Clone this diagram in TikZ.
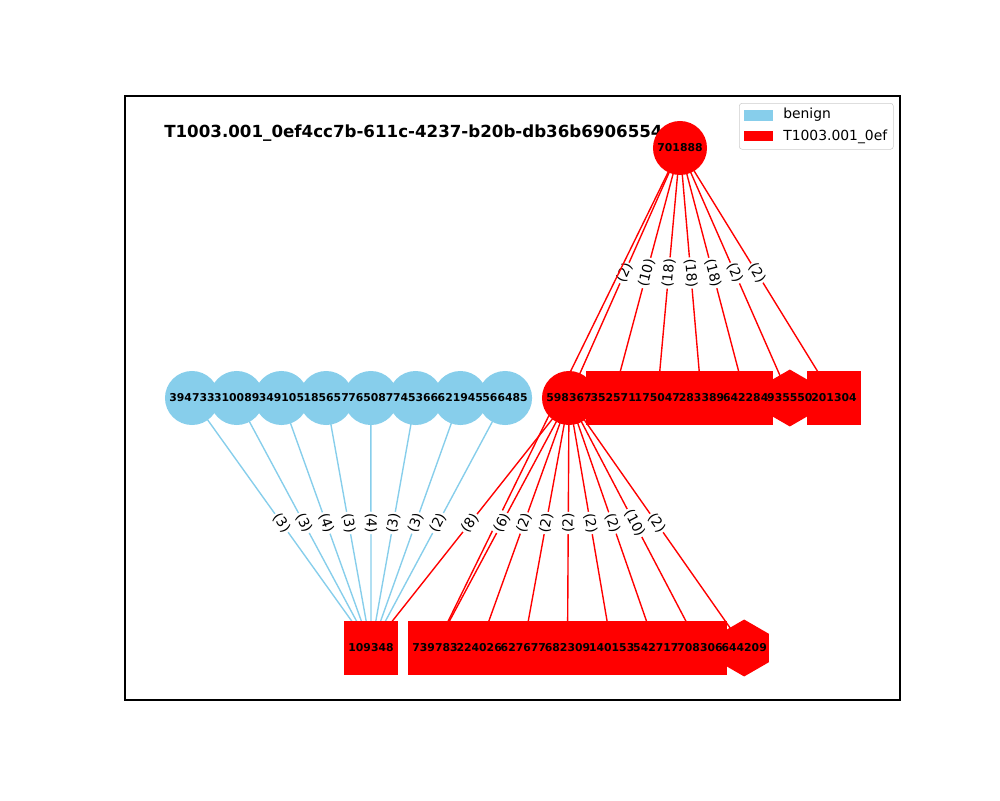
\documentclass[tikz,border=0pt]{standalone}
\usepackage{fontspec}
\setmainfont{DejaVu Sans}
\usetikzlibrary{shapes.geometric, backgrounds, positioning}
\definecolor{skyblue}{HTML}{87CEEB}
\tikzstyle{benign} = [circle, minimum size=38.9pt, inner sep=0pt, fill=skyblue]
\tikzstyle{hostcircle} = [circle, minimum size=38.9pt, inner sep=0pt, fill=red]
\tikzstyle{hostsquare} = [rectangle, minimum size=38.9pt, inner sep=0pt, fill=red]
\tikzstyle{hosthex} = [regular polygon, regular polygon sides=6, shape border rotate=30, minimum size=41pt, inner sep=0pt, fill=red]
\tikzstyle{nodeid} = [inner sep=0pt, font=\bfseries\fontsize{7.8}{9}\selectfont]
\tikzstyle{benignedge} = [draw=skyblue, line width=1pt]
\tikzstyle{attackedge} = [draw=red, line width=1pt]
\tikzstyle{weight} = [midway, sloped, fill=white, inner sep=1pt, font=\fontsize{10}{12}\selectfont]
\tikzstyle{keypatch} = [rectangle, minimum width=20.7pt, minimum height=7.5pt, inner sep=0pt]
\tikzstyle{keytext} = [anchor=base west, inner sep=0pt, font=\fontsize{10}{12}\selectfont]
\begin{document}
\begin{tikzpicture}[x=0.72pt, y=-0.72pt, node distance=31.8pt]
	\useasboundingbox (0,0) rectangle (1000,800);
	\draw[line width=0.8pt] (125,96) rectangle (900,700);
	
		\node (title) [anchor=base west, inner sep=0pt, font=\bfseries\fontsize{12}{14}\selectfont] at (164,137.5) {T1003.001\_0ef4cc7b-611c-4237-b20b-db36b6906554};
		
		\node (n701888) [hostcircle] at (680,148) {};
		
		\begin{scope}[node distance=32.2pt]
		\node (n394733) [benign] at (192,398) {};
		\node (n310089) [benign, right of=n394733] {};
		\node (n349105) [benign, right of=n310089] {};
		\node (n185657) [benign, right of=n349105] {};
		\node (n765087) [benign, right of=n185657] {};
		\node (n745366) [benign, right of=n765087] {};
		\node (n621945) [benign, right of=n745366] {};
		\node (n566485) [benign, right of=n621945] {};
		\end{scope}
		
		\node (n598367) [hostcircle] at (569,398) {};
		\node (n352571) [hostsquare, right of=n598367] {};
		\node (n175047) [hostsquare, right of=n352571] {};
		\node (n283389) [hostsquare, right of=n175047] {};
		\node (n642284) [hostsquare, right of=n283389] {};
		\node (n935550) [hosthex, right of=n642284] {};
		\node (n201304) [hostsquare, right of=n935550] {};
		
		\node (n109348) [hostsquare] at (371,648) {};
		\node (n739783) [hostsquare] at (435,648) {};
		\node (n224026) [hostsquare, right of=n739783] {};
		\node (n627677) [hostsquare, right of=n224026] {};
		\node (n682309) [hostsquare, right of=n627677] {};
		\node (n140153) [hostsquare, right of=n682309] {};
		\node (n542717) [hostsquare, right of=n140153] {};
		\node (n708306) [hostsquare, right of=n542717] {};
		\node (n644209) [hosthex, right of=n708306] {};
		
		% ids on top of the shapes
		\node (t701888) [nodeid] at (n701888) {701888};
		\node (t394733) [nodeid] at (n394733) {394733};
		\node (t310089) [nodeid] at (n310089) {310089};
		\node (t349105) [nodeid] at (n349105) {349105};
		\node (t185657) [nodeid] at (n185657) {185657};
		\node (t765087) [nodeid] at (n765087) {765087};
		\node (t745366) [nodeid] at (n745366) {745366};
		\node (t621945) [nodeid] at (n621945) {621945};
		\node (t566485) [nodeid] at (n566485) {566485};
		\node (t598367) [nodeid] at (n598367) {598367};
		\node (t352571) [nodeid] at (n352571) {352571};
		\node (t175047) [nodeid] at (n175047) {175047};
		\node (t283389) [nodeid] at (n283389) {283389};
		\node (t642284) [nodeid] at (n642284) {642284};
		\node (t935550) [nodeid] at (n935550) {935550};
		\node (t201304) [nodeid] at (n201304) {201304};
		\node (t109348) [nodeid] at (n109348) {109348};
		\node (t739783) [nodeid] at (n739783) {739783};
		\node (t224026) [nodeid] at (n224026) {224026};
		\node (t627677) [nodeid] at (n627677) {627677};
		\node (t682309) [nodeid] at (n682309) {682309};
		\node (t140153) [nodeid] at (n140153) {140153};
		\node (t542717) [nodeid] at (n542717) {542717};
		\node (t708306) [nodeid] at (n708306) {708306};
		\node (t644209) [nodeid] at (n644209) {644209};
		
		% legend
		\node (legend) [draw=black!20, fill=white, rounded corners=2pt, minimum width=110.9pt, minimum height=33.1pt, inner sep=0pt] at (816.3,126.3) {};
		\node (keybenign) [keypatch, fill=skyblue] at (758.3,115.3) {};
		\node (keyattack) [keypatch, fill=red] at (758.3,136.2) {};
		\node (txtbenign) [keytext] at (783,118) {benign};
		\node (txtattack) [keytext] at (783,140.5) {T1003.001\_0ef};
		
		\begin{scope}[on background layer]
		\draw[attackedge] (n701888.center) -- (n598367.center) node[weight] {(2)};
		\draw[attackedge] (n701888.center) -- (n352571.center) node[weight] {(10)};
		\draw[attackedge] (n701888.center) -- (n175047.center) node[weight] {(18)};
		\draw[attackedge] (n701888.center) -- (n283389.center) node[weight] {(18)};
		\draw[attackedge] (n701888.center) -- (n642284.center) node[weight] {(18)};
		\draw[attackedge] (n701888.center) -- (n935550.center) node[weight] {(2)};
		\draw[attackedge] (n701888.center) -- (n201304.center) node[weight] {(2)};
		\draw[attackedge] (n701888.center) -- (n739783.center);
		
		\draw[benignedge] (n394733.center) -- (n109348.center) node[weight] {(3)};
		\draw[benignedge] (n310089.center) -- (n109348.center) node[weight] {(3)};
		\draw[benignedge] (n349105.center) -- (n109348.center) node[weight] {(4)};
		\draw[benignedge] (n185657.center) -- (n109348.center) node[weight] {(3)};
		\draw[benignedge] (n765087.center) -- (n109348.center) node[weight] {(4)};
		\draw[benignedge] (n745366.center) -- (n109348.center) node[weight] {(3)};
		\draw[benignedge] (n621945.center) -- (n109348.center) node[weight] {(3)};
		\draw[benignedge] (n566485.center) -- (n109348.center) node[weight] {(2)};
		
		\draw[attackedge] (n598367.center) -- (n109348.center) node[weight] {(8)};
		\draw[attackedge] (n598367.center) -- (n739783.center) node[weight] {(6)};
		\draw[attackedge] (n598367.center) -- (n224026.center) node[weight] {(2)};
		\draw[attackedge] (n598367.center) -- (n627677.center) node[weight] {(2)};
		\draw[attackedge] (n598367.center) -- (n682309.center) node[weight] {(2)};
		\draw[attackedge] (n598367.center) -- (n140153.center) node[weight] {(2)};
		\draw[attackedge] (n598367.center) -- (n542717.center) node[weight] {(2)};
		\draw[attackedge] (n598367.center) -- (n708306.center) node[weight] {(10)};
		\draw[attackedge] (n598367.center) -- (n644209.center) node[weight] {(2)};
		\end{scope}
	\end{tikzpicture}
\end{document}
